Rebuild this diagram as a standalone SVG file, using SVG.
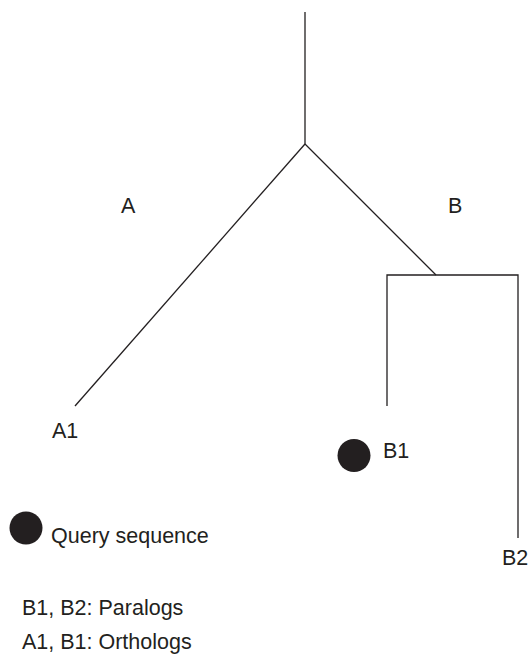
<svg xmlns="http://www.w3.org/2000/svg" width="530" height="655" viewBox="0 0 530 655">
  <style>
    .edge { stroke: #231f20; stroke-width: 1.3; fill: none; }
    .lbl { font-family: "Liberation Sans", Arial, sans-serif; font-size: 21.5px; fill: #231f20; }
    .dot { fill: #231f20; }
  </style>
  <rect width="530" height="655" fill="#ffffff"/>
  <g id="connectors">
    <line class="edge" x1="305" y1="12" x2="305" y2="144"/>
    <line class="edge" x1="305" y1="144" x2="75" y2="406"/>
    <line class="edge" x1="305" y1="144" x2="436" y2="275"/>
    <polyline class="edge" points="387,406 387,275 518,275 518,538"/>
  </g>
  <g id="clade-A"><text class="lbl" x="121" y="213">A</text></g>
  <g id="clade-B"><text class="lbl" x="448" y="213">B</text></g>
  <g id="leaf-A1"><text class="lbl" x="52" y="438">A1</text></g>
  <g id="leaf-B1">
    <circle class="dot" cx="354" cy="455.5" r="16.5"/>
    <text class="lbl" x="383" y="458">B1</text>
  </g>
  <g id="leaf-B2"><text class="lbl" x="502" y="565">B2</text></g>
  <g id="legend">
    <circle class="dot" cx="26" cy="528" r="16.5"/>
    <text class="lbl" x="51" y="543">Query sequence</text>
    <text class="lbl" x="22" y="615">B1, B2: Paralogs</text>
    <text class="lbl" x="22" y="649">A1, B1: Orthologs</text>
  </g>
</svg>
